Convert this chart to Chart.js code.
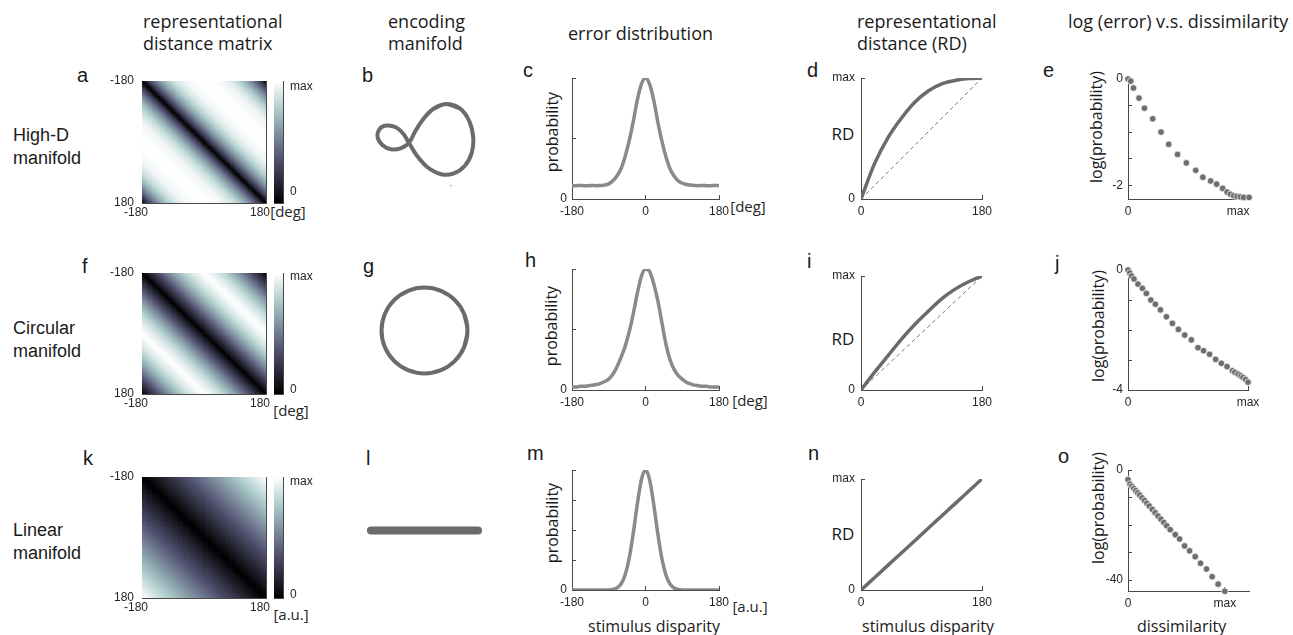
<!DOCTYPE html>
<html>
<head>
<meta charset="utf-8">
<script src="https://cdn.jsdelivr.net/npm/chart.js@4.4.0/dist/chart.umd.min.js"></script>
<style>
html, body { margin: 0; padding: 0; background: #fff; }
body { width: 1293px; height: 635px; position: relative; overflow: hidden; }
canvas { position: absolute; }
.t { position: absolute; white-space: nowrap; color: #1a1a1a; }
.title { font: 18px/22px "Open Sans", sans-serif; }
.row { font: 18px/23px "Liberation Sans", Arial, sans-serif; }
.lt { font: 20px/20px "Liberation Sans", Arial, sans-serif; }
.ax { font: 16px/20px "Open Sans", sans-serif; }
.rd { font: 17px/20px "Open Sans", sans-serif; transform: translate(-50%, -50%); }
.unit { font: 15px/18px "Open Sans", sans-serif; transform: translate(-50%, -50%); color: #262626; }
.rot { transform: translate(-50%, -50%) rotate(-90deg); }
</style>
</head>
<body>

<!-- column titles -->
<div class="t title" style="left:143px;top:10px">representational<br>distance matrix</div>
<div class="t title" style="left:388px;top:10px">encoding<br>manifold</div>
<div class="t title" style="left:568px;top:22px">error distribution</div>
<div class="t title" style="left:857px;top:10px">representational<br>distance (RD)</div>
<div class="t title" style="left:1068px;top:10px">log (error) v.s. dissimilarity</div>

<!-- row labels -->
<div class="t row" style="left:13px;top:124px">High-D<br>manifold</div>
<div class="t row" style="left:13px;top:317px">Circular<br>manifold</div>
<div class="t row" style="left:13px;top:519px">Linear<br>manifold</div>

<!-- panel letters -->
<div class="t lt" style="left:77px;top:65px">a</div>
<div class="t lt" style="left:362px;top:65px">b</div>
<div class="t lt" style="left:523px;top:60px">c</div>
<div class="t lt" style="left:807px;top:60px">d</div>
<div class="t lt" style="left:1043px;top:60px">e</div>
<div class="t lt" style="left:82px;top:256px">f</div>
<div class="t lt" style="left:363px;top:256px">g</div>
<div class="t lt" style="left:525px;top:250px">h</div>
<div class="t lt" style="left:807px;top:251px">i</div>
<div class="t lt" style="left:1055px;top:253px">j</div>
<div class="t lt" style="left:83px;top:448px">k</div>
<div class="t lt" style="left:366px;top:448px">l</div>
<div class="t lt" style="left:527px;top:443px">m</div>
<div class="t lt" style="left:808px;top:443px">n</div>
<div class="t lt" style="left:1058px;top:446px">o</div>

<!-- axis titles -->
<div class="t ax rot" style="left:552px;top:132px">probability</div>
<div class="t ax rot" style="left:551px;top:326px">probability</div>
<div class="t ax rot" style="left:552px;top:523px">probability</div>
<div class="t ax rot" style="left:1096px;top:127px">log(probability)</div>
<div class="t ax rot" style="left:1098px;top:326px">log(probability)</div>
<div class="t ax rot" style="left:1098px;top:508px">log(probability)</div>
<div class="t ax" style="left:588px;top:616px">stimulus disparity</div>
<div class="t ax" style="left:862px;top:616px">stimulus disparity</div>
<div class="t ax" style="left:1137px;top:616px">dissimilarity</div>
<div class="t rd" style="left:843px;top:134px">RD</div>
<div class="t rd" style="left:843px;top:339px">RD</div>
<div class="t rd" style="left:843px;top:534px">RD</div>
<div class="t unit" style="left:288px;top:211px">[deg]</div>
<div class="t unit" style="left:291px;top:410px">[deg]</div>
<div class="t unit" style="left:291px;top:614px">[a.u.]</div>
<div class="t unit" style="left:748px;top:206px">[deg]</div>
<div class="t unit" style="left:750px;top:400px">[deg]</div>
<div class="t unit" style="left:750px;top:606px">[a.u.]</div>

<script>
// ---- values ----
const errAngle = [-180,-170,-160,-150,-140,-130,-120,-110,-100,-90,-80,-70,-60,-50,-40,-30,-20,-10,0,
                  10,20,30,40,50,60,70,80,90,100,110,120,130,140,150,160,170,180];
const errHighD = [.11,.11,.112,.11,.11,.112,.11,.112,.115,.125,.15,.19,.25,.35,.48,.64,.82,.95,1,
                  .95,.82,.64,.48,.35,.25,.19,.15,.13,.12,.115,.112,.11,.112,.11,.11,.112,.11];
const errCircular = [.025,.025,.03,.03,.035,.04,.045,.055,.07,.09,.13,.19,.27,.36,.48,.63,.80,.94,1,
                     .98,.88,.74,.56,.38,.25,.17,.12,.09,.065,.05,.04,.035,.03,.03,.025,.025,.025];
const errLinear = [0,0,0,0,0,0,0,0,0,.001,.005,.017,.05,.125,.264,.473,.717,.92,1,
                   .92,.717,.473,.264,.125,.05,.017,.005,.001,0,0,0,0,0,0,0,0,0];

const rdDisparity = [0,20,40,60,80,100,120,140,160,180];
const rdHighD    = [0,.29,.505,.667,.80,.893,.952,.98,.995,1];
const rdCircular = [0,.155,.30,.445,.575,.69,.80,.885,.95,1];
const rdLinear   = [0,.111,.222,.333,.444,.556,.667,.778,.889,1];
// linear manifold matrix is not circular: distance keeps growing up to 360
const linMatrixDiff = [0,90,180,270,360];
const linMatrixRD   = [0,.25,.5,.75,1];

const dissHighD = [0,.025,.05,.10,.15,.225,.30,.37,.45,.53,.615,.68,.75,.805,.86,.90,.93,.96,.99,1.02,1.05,1.10];
const logpHighD = [0,-.04,-.17,-.36,-.55,-.75,-1.0,-1.23,-1.42,-1.58,-1.72,-1.85,-1.92,-1.98,-2.06,-2.13,-2.17,-2.2,-2.21,-2.22,-2.23,-2.23];
const dissCircular = [0,.015,.03,.05,.083,.12,.153,.19,.228,.27,.32,.37,.42,.4725,.528,.583,.63,.68,.73,.778,.825,.87,.89,.917,.94,.958,.98,1.0];
const logpCircular = [0,-.1,-.2,-.30,-.47,-.61,-.78,-1.0,-1.14,-1.33,-1.56,-1.78,-1.98,-2.17,-2.33,-2.59,-2.69,-2.81,-2.98,-3.11,-3.22,-3.36,-3.41,-3.47,-3.53,-3.58,-3.65,-3.74];
const dissLinear = [0,.02,.04,.06,.08,.10,.12,.145,.17,.195,.22,.25,.28,.31,.34,.37,.40,.436,.488,.533,.584,.636,.694,.749,.811,.869,.931,1.0];
const logpLinear = [-3.5,-5.1,-5.9,-6.7,-7.5,-8.3,-9.1,-10.1,-11.1,-12.1,-13.1,-14.3,-15.5,-16.7,-17.9,-19.1,-20.3,-21.7,-23.5,-25.1,-27.6,-29.4,-31.5,-33.9,-36.0,-38.8,-41.5,-44.1];

// encoding manifolds (2-D projection, arbitrary units), first/last points wrap for a smooth seam
const fig8U = [.82,.48,.18,-.07,-.26,-.39,-.59,-.82,-1.02,-1.13,-1.09,-.93,-.70,-.52,-.39,-.22,.04,.37,.67,.93,1.09,1.13,1.04,.82,.48,.18];
const fig8V = [.73,.84,.72,.46,.16,-.08,-.21,-.23,-.13,.05,.24,.33,.29,.13,-.08,-.36,-.65,-.82,-.80,-.62,-.32,.02,.42,.73,.84,.72];
const circleU = [.882,.955,.882,.675,.366,0,-.366,-.675,-.882,-.955,-.882,-.675,-.366,0,.366,.675,.882,.955,.882];
const circleV = [-.366,0,.366,.675,.882,.955,.882,.675,.366,0,-.366,-.675,-.882,-.955,-.882,-.675,-.366,0,.366];
const lineU = [-1.19, 1.19];
const lineV = [0, 0];

// ---- styling ----
const AX = '#474747', TXT = '#262626';
const CURVE_LIGHT = '#8a8a8a', CURVE = '#6b6b6b', DOT = '#6e6e6e';
Chart.defaults.font.family = '"Liberation Sans", Arial, sans-serif';
Chart.defaults.font.size = 12;
Chart.defaults.color = TXT;

function bone(t) {
  t = Math.min(1, Math.max(0, t));
  const hr = Math.min(1, t / 0.375);
  const hg = Math.min(1, Math.max(0, (t - 0.375) / 0.375));
  const hb = Math.max(0, (t - 0.75) / 0.25);
  const r = (7 * t + hb) / 8, g = (7 * t + hg) / 8, b = (7 * t + hr) / 8;
  return 'rgb(' + Math.round(r * 255) + ',' + Math.round(g * 255) + ',' + Math.round(b * 255) + ')';
}

function interp(xs, ys, x) {
  for (let i = 1; i < xs.length; i++) {
    if (x <= xs[i]) {
      const f = (x - xs[i - 1]) / (xs[i] - xs[i - 1]);
      return ys[i - 1] + f * (ys[i] - ys[i - 1]);
    }
  }
  return ys[ys.length - 1];
}

function pts(xs, ys) { return xs.map((x, i) => ({x: x, y: ys[i]})); }

// canvas whose plot area lands exactly on rect=[x0,y0,x1,y1]; m = margins [l,t,r,b]
function mount(rect, m) {
  const cv = document.createElement('canvas');
  const w = rect[2] - rect[0] + m[0] + m[2], h = rect[3] - rect[1] + m[1] + m[3];
  cv.width = w; cv.height = h;
  cv.style.left = (rect[0] - m[0]) + 'px';
  cv.style.top = (rect[1] - m[1]) + 'px';
  cv.style.width = w + 'px';
  cv.style.height = h + 'px';
  document.body.appendChild(cv);
  return cv;
}

function axis(o) {
  const horiz = o.pos === 'bottom' || o.pos === 'top';
  return {
    type: 'linear', position: o.pos, min: o.min, max: o.max, reverse: !!o.reverse,
    afterBuildTicks: s => { s.ticks = o.ticks.map(v => ({value: v})); },
    afterFit: s => {
      if (horiz) { s.height = o.size || 0; s.paddingLeft = 0; s.paddingRight = 0; }
      else { s.width = o.size || 0; s.paddingTop = 0; s.paddingBottom = 0; }
    },
    ticks: {
      display: !!o.labels, autoSkip: false, maxRotation: 0, padding: o.pad === undefined ? 9 : o.pad,
      labelOffset: o.offset || 0, color: TXT, font: {size: 12},
      callback: (v, i) => (o.labels ? o.labels[i] : '')
    },
    grid: { display: true, drawOnChartArea: false, drawTicks: true, tickLength: -(o.tick || 4), color: AX, lineWidth: 1 },
    border: { display: true, color: AX, width: 1 }
  };
}

function options(scales, padding) {
  return {
    responsive: false, animation: false, devicePixelRatio: 1, events: [],
    layout: { padding: padding },
    plugins: { legend: {display: false}, tooltip: {enabled: false} },
    scales: scales
  };
}

// ---- distance matrices + colorbars ----
const CELLS = 72;
function matrixCells(profX, profY, circular) {
  const step = 360 / CELLS, cells = [];
  for (let i = 0; i < CELLS; i++) {
    for (let j = 0; j < CELLS; j++) {
      const a = -180 + step * (i + 0.5), b = -180 + step * (j + 0.5);
      let d = Math.abs(a - b);
      if (circular && d > 180) d = 360 - d;
      cells.push({x: a, y: b, v: interp(profX, profY, d)});
    }
  }
  return cells;
}

const stimTicks = [-180, -90, 0, 90, 180];
const stimLabels = ['-180', '', '', '', '180'];

function heatmap(rect, cells) {
  const cv = mount(rect, [42, 12, 16, 24]);
  new Chart(cv, {
    type: 'scatter',
    data: { datasets: [{
      data: cells, pointStyle: 'rect', clip: 0,
      pointBackgroundColor: cells.map(c => bone(c.v)), pointBorderWidth: 0,
      pointRadius: ctx => (ctx.chart.chartArea ? ctx.chart.chartArea.width / CELLS : 2) / Math.SQRT2 + 0.45
    }]},
    options: options({
      x: axis({pos: 'bottom', min: -180, max: 180, ticks: stimTicks, labels: stimLabels, size: 24, tick: 3, pad: 5, offset: -6}),
      y: axis({pos: 'left', min: -180, max: 180, reverse: true, ticks: stimTicks, labels: stimLabels, size: 42, tick: 3, pad: 11}),
      x2: axis({pos: 'top', min: -180, max: 180, ticks: stimTicks, size: 0, tick: 3}),
      y2: axis({pos: 'right', min: -180, max: 180, reverse: true, ticks: stimTicks, size: 0, tick: 3})
    }, {left: 0, top: 12, right: 16, bottom: 0})
  });
}

function colorbar(rect, lo, hi) {
  const cv = mount(rect, [2, 12, 36, 12]);
  const edge = { type: 'linear', min: 0, max: 1, ticks: {display: false}, grid: {display: false},
                 border: {display: true, color: AX, width: 1} };
  new Chart(cv, {
    type: 'bar',
    data: { labels: [''], datasets: [{
      data: [[0, 1]], borderWidth: 0, barPercentage: 1, categoryPercentage: 1,
      backgroundColor: ctx => {
        const a = ctx.chart.chartArea;
        if (!a) return '#888';
        const g = ctx.chart.ctx.createLinearGradient(0, a.bottom, 0, a.top);
        [0, 0.375, 0.75, 1].forEach(t => g.addColorStop(t, bone(t)));
        return g;
      }
    }]},
    options: options({
      x: { type: 'category', position: 'bottom', ticks: {display: false}, grid: {display: false},
           border: {display: true, color: AX, width: 1},
           afterFit: s => { s.height = 0; s.paddingLeft = 0; s.paddingRight = 0; } },
      x2: Object.assign({}, edge, { position: 'top', afterFit: s => { s.height = 0; s.paddingLeft = 0; s.paddingRight = 0; } }),
      y: axis({pos: 'right', min: 0, max: 1, ticks: [lo, hi], labels: ['0', 'max'], size: 36, tick: 2, pad: 9}),
      y2: axis({pos: 'left', min: 0, max: 1, ticks: [lo, hi], size: 0, tick: 2})
    }, {left: 2, top: 12, right: 0, bottom: 12})
  });
}

heatmap([142, 81, 266, 203], matrixCells(rdDisparity, rdHighD, true));
heatmap([142, 273, 266, 394], matrixCells(rdDisparity, rdCircular, true));
heatmap([142, 477, 266, 598], matrixCells(linMatrixDiff, linMatrixRD, false));
colorbar([274, 81, 283, 203], 0.09, 0.95);
colorbar([274, 273, 283, 394], 0.033, 0.967);
colorbar([274, 477, 283, 598], 0.027, 0.964);

// ---- encoding manifolds ----
function manifold(rect, u, v, width, extra) {
  const cv = mount(rect, [0, 0, 0, 0]);
  const sets = [{
    data: pts(u, v), showLine: true, pointRadius: 0, borderColor: CURVE, borderWidth: width,
    tension: 0.34, borderCapStyle: 'round', borderJoinStyle: 'round'
  }];
  if (extra) sets.push(extra);
  new Chart(cv, {
    type: 'scatter',
    data: { datasets: sets },
    options: options({
      x: {type: 'linear', min: -1.5, max: 1.5, display: false},
      y: {type: 'linear', min: -1.5, max: 1.5, display: false}
    }, 0)
  });
}
manifold([358, 72, 493, 207], fig8U, fig8V, 4,
         {data: [{x: .6, y: -1.09}], pointRadius: 0.8, pointBackgroundColor: '#999', pointBorderWidth: 0});
manifold([357, 263, 492, 398], circleU, circleV, 4);
manifold([357, 463, 492, 598], lineU, lineV, 8);

// ---- error distributions ----
function errorPanel(rect, values, yTicks) {
  const cv = mount(rect, [30, 8, 16, 22]);
  new Chart(cv, {
    type: 'scatter',
    data: { datasets: [{
      data: pts(errAngle, values), showLine: true, pointRadius: 0,
      borderColor: CURVE_LIGHT, borderWidth: 3.5, cubicInterpolationMode: 'monotone'
    }]},
    options: options({
      x: axis({pos: 'bottom', min: -180, max: 180, ticks: [-180, 0, 180], labels: ['-180', '0', '180'], size: 22}),
      y: axis({pos: 'left', min: 0, max: 1, ticks: yTicks, labels: yTicks.map(t => (t === 0 ? '0' : '')), size: 30})
    }, {left: 0, top: 8, right: 16, bottom: 0})
  });
}
errorPanel([572, 78, 719, 199], errHighD, [0, .5, 1]);
errorPanel([572, 269, 719, 390], errCircular, [0, .5, 1]);
errorPanel([572, 470, 719, 590], errLinear, [0, .25, .5, .75, 1]);

// ---- representational distance ----
function rdPanel(rect, values, diagonal) {
  const cv = mount(rect, [36, 8, 14, 22]);
  const sets = [{
    data: pts(rdDisparity, values), showLine: true, pointRadius: 0,
    borderColor: CURVE, borderWidth: 3.5, cubicInterpolationMode: 'monotone'
  }];
  if (diagonal) sets.push({
    data: pts([0, 180], [0, 1]), showLine: true, pointRadius: 0,
    borderColor: '#7a7a7a', borderWidth: 1, borderDash: [4, 3]
  });
  new Chart(cv, {
    type: 'scatter',
    data: { datasets: sets },
    options: options({
      x: axis({pos: 'bottom', min: 0, max: 180, ticks: [0, 180], labels: ['0', '180'], size: 22}),
      y: axis({pos: 'left', min: 0, max: 1, ticks: [0, 1], labels: ['0', 'max'], size: 36, pad: 10})
    }, {left: 0, top: 8, right: 14, bottom: 0})
  });
}
rdPanel([861, 78, 982, 199], rdHighD, true);
rdPanel([861, 276, 982, 390], rdCircular, true);
rdPanel([861, 479, 982, 590], rdLinear, false);

// ---- log(error) vs dissimilarity ----
function logPanel(rect, xs, ys, xMax, yMin, yTicks, yLabel) {
  const cv = mount(rect, [30, 10, 16, 22]);
  new Chart(cv, {
    type: 'scatter',
    data: { datasets: [{
      data: pts(xs, ys), clip: false, pointRadius: 3.3,
      pointBackgroundColor: DOT, pointBorderColor: '#ffffff', pointBorderWidth: 0.7
    }]},
    options: options({
      x: axis({pos: 'bottom', min: 0, max: xMax, ticks: [0, 1], labels: ['0', 'max'], size: 22}),
      y: axis({pos: 'left', min: yMin, max: 0, ticks: yTicks,
               labels: yTicks.map((t, i) => (i === 0 ? yLabel : (i === yTicks.length - 1 ? '0' : ''))), size: 30})
    }, {left: 0, top: 10, right: 16, bottom: 0})
  });
}
logPanel([1128, 79, 1248, 199], dissHighD, logpHighD, 1.09, -2.26, [-2, -1.5, -1, -.5, 0], '-2');
logPanel([1128, 270, 1248, 390], dissCircular, logpCircular, 1.0, -4, [-4, -3, -2, -1, 0], '-4');
logPanel([1128, 470, 1249, 591], dissLinear, logpLinear, 1.25, -44, [-40, -30, -20, -10, 0], '-40');
</script>
</body>
</html>
